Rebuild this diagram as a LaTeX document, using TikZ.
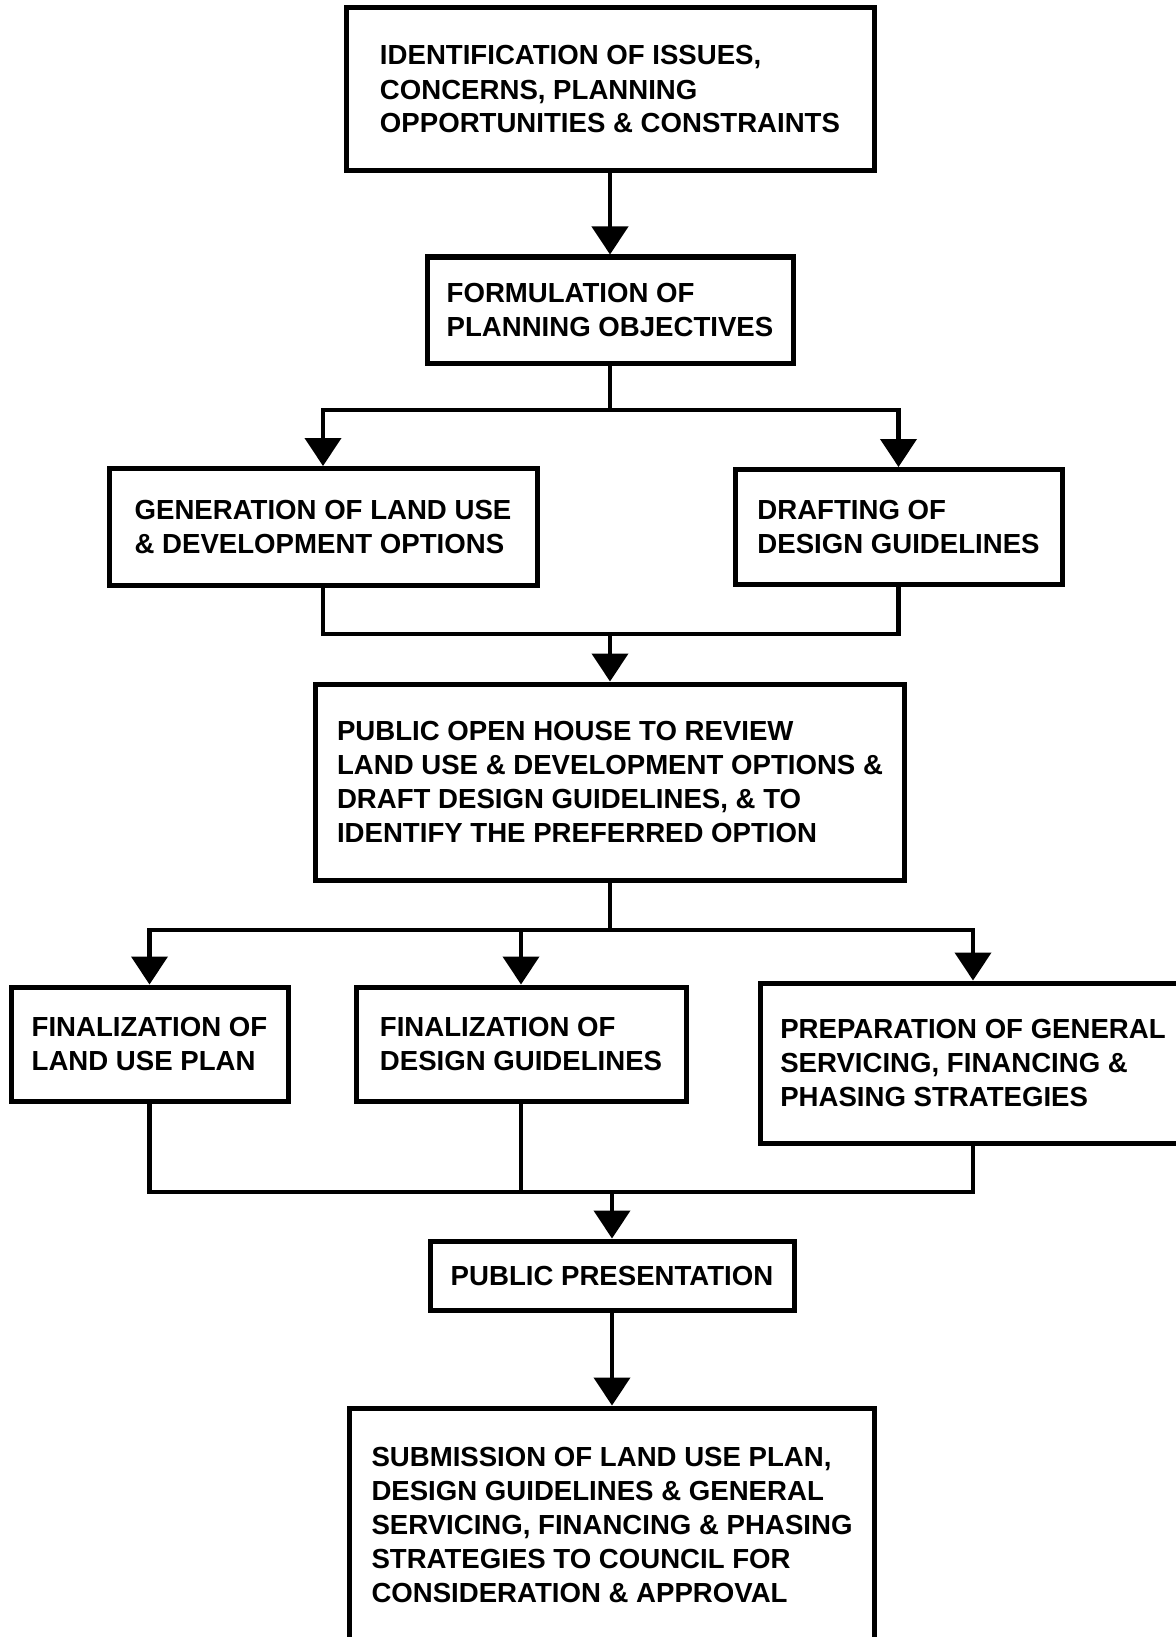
\documentclass[tikz,border=0pt]{standalone}
\usepackage{fontspec}
\setmainfont{Liberation Sans}
\usetikzlibrary{arrows.meta}

\begin{document}
\begin{tikzpicture}[x=0.5pt, y=-0.5pt,
		stage/.style={draw, line width=2.5pt, align=left, inner sep=2pt, font=\fontsize{13.8}{17}\selectfont\bfseries},
		link/.style={line width=2.1pt},
		flow/.style={link, -{Triangle[width=18pt, length=14pt]}}]
		\useasboundingbox (0, 0) rectangle (1176, 1637);
		\clip (0, 0) rectangle (1176, 1637);

		\node [stage, minimum width=264pt, minimum height=81.5pt] (issues) at (610, 89.5) {IDENTIFICATION OF ISSUES,\\CONCERNS, PLANNING\\OPPORTUNITIES \& CONSTRAINTS};
		\node [stage, minimum width=183pt, minimum height=53pt] (objectives) at (610, 310) {FORMULATION OF\\PLANNING OBJECTIVES};
		\node [stage, minimum width=214pt, minimum height=58.5pt] (options) at (323, 527) {GENERATION OF LAND USE\\\& DEVELOPMENT OPTIONS};
		\node [stage, minimum width=163.5pt, minimum height=57.5pt] (drafting) at (898.5, 527) {DRAFTING OF\\DESIGN GUIDELINES};
		\node [stage, minimum width=294.5pt, minimum height=98pt] (openhouse) at (610, 782) {PUBLIC OPEN HOUSE TO REVIEW\\LAND USE \& DEVELOPMENT OPTIONS \&\\DRAFT DESIGN GUIDELINES, \& TO\\IDENTIFY THE PREFERRED OPTION};
		\node [stage, minimum width=138.5pt, minimum height=57pt] (landplan) at (149.5, 1044) {FINALIZATION OF\\LAND USE PLAN};
		\node [stage, minimum width=165pt, minimum height=57pt] (guidelines) at (521, 1044) {FINALIZATION OF\\DESIGN GUIDELINES};
		\node [stage, minimum width=213pt, minimum height=80pt] (strategies) at (973, 1063) {PREPARATION OF GENERAL\\SERVICING, FINANCING \&\\PHASING STRATEGIES};
		\node [stage, minimum width=182pt, minimum height=34.5pt] (presentation) at (612, 1275.5) {PUBLIC PRESENTATION};
		\node [stage, minimum width=262.5pt, minimum height=117pt] (submission) at (612, 1525) {SUBMISSION OF LAND USE PLAN,\\DESIGN GUIDELINES \& GENERAL\\SERVICING, FINANCING \& PHASING\\STRATEGIES TO COUNCIL FOR\\CONSIDERATION \& APPROVAL};

		\coordinate (split1) at (610, 410);
		\coordinate (merge1) at (610, 634);
		\coordinate (split2) at (610, 930);
		\coordinate (merge2) at (612, 1192);

		\draw [flow] (issues.south) -- (objectives.north);
		\draw [link] (objectives.south) -- (split1);
		\draw [flow] (split1) -| (options.north);
		\draw [flow] (split1) -| (drafting.north);

		\draw [link] (options.south) |- (merge1) -| (drafting.south);
		\draw [flow] (merge1) -- (openhouse.north);

		\draw [link] (openhouse.south) -- (split2);
		\draw [flow] (split2) -| (landplan.north);
		\draw [flow] (split2) -| (guidelines.north);
		\draw [flow] (split2) -| (strategies.north);

		\draw [link] (landplan.south) |- (merge2) -| (strategies.south);
		\draw [link] (guidelines.south) -- (guidelines.south |- merge2);
		\draw [flow] (merge2) -- (presentation.north);
		\draw [flow] (presentation.south) -- (submission.north);
	\end{tikzpicture}
\end{document}
